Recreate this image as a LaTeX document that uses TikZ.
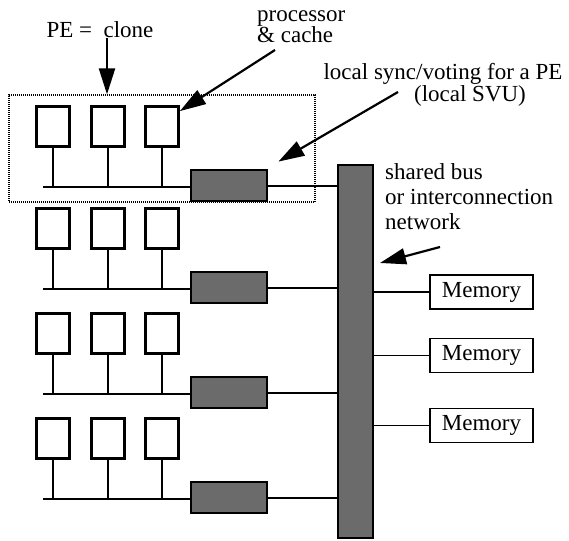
\documentclass[tikz,border=0pt]{standalone}
\usepackage{fontspec}
\setmainfont{Liberation Serif}
\usetikzlibrary{arrows.meta}

\tikzset{
  proc/.style={draw, line width=2.8pt, minimum width=33pt, minimum height=40pt, inner sep=0pt},
  svu/.style={draw, line width=2.8pt, fill=black!58, minimum width=76pt, minimum height=31pt, inner sep=0pt},
  mem/.style={draw, line width=1.8pt, minimum width=103pt, minimum height=34pt, inner sep=0pt},
  lbl/.style={font=\fontsize{23}{23}\selectfont, inner sep=0pt},
  pointer/.style={line width=2.2pt, -{Triangle[length=26pt,width=16pt]}},
}

\begin{document}
\begin{tikzpicture}[x=1pt,y=-1pt]
\useasboundingbox (0,0) rectangle (569,540);
% shared bus and the memories
\node[svu, minimum width=35pt, minimum height=373pt] (bus) at (355.5,351.5) {};
\node[mem, lbl] (m1) at (481.5,292) {Memory};
\node[mem, lbl] (m2) at (481.5,355.5) {Memory};
\node[mem, lbl] (m3) at (481.5,425.5) {Memory};
\foreach \m in {1,2,3}
  \draw[line width=1.5pt] (m\m.west) -- (m\m.west -| bus.east);

% the four PEs
\foreach \r/\y in {1/187,2/289,3/394,4/499}{
  \node[proc] (p\r-1) at (53,\y-60.5) {};
  \node[proc] (p\r-2) at (108,\y-60.5) {};
  \node[proc] (p\r-3) at (162,\y-60.5) {};
  \node[svu] (s\r) at (229,\y-1.5) {};
  \coordinate (b\r) at (43,\y);
  \draw[line width=2pt] (b\r) -- (b\r -| s\r.west);
  \foreach \k in {1,2,3}
    \draw[line width=2pt] (p\r-\k.south) -- (p\r-\k.south |- b\r);
  \draw[line width=2pt] (s\r.east) -- (s\r.east -| bus.west);
}

% one PE = clone
\node[draw, line width=1.2pt, dash pattern=on 1pt off 1pt, minimum width=306pt, minimum height=107pt] (grp) at (162,148.5) {};

% labels
\node[lbl] (pe) at (100,30) {PE = \ clone};
\node[lbl, font=\fontsize{23}{20}\selectfont, align=left, anchor=base west] (pc) at (257,43) {processor\\\& cache};
\node[lbl] (sync) at (443,74) {local sync/voting for a PE};
\node[lbl] (svulbl) at (470,96) {(local SVU)};
\node[lbl, font=\fontsize{23}{25}\selectfont, align=left, anchor=base west] (net) at (385,229) {shared bus\\or interconnection\\network};
\coordinate (pcTail) at (275,50);
\coordinate (syncTail) at (398,92);
\coordinate (netTail) at (440,247);
\coordinate (netTip) at (380,263);

\draw[pointer] ([xshift=7pt]pe.south) -- ([xshift=7pt]pe.south |- grp.north);
\draw[pointer] (pcTail) -- ([yshift=-6pt]p1-3.north east);
\draw[pointer] (syncTail) -- ([shift={(10pt,7pt)}]s1.north east);
\draw[pointer] (netTail) -- (netTip);
\end{tikzpicture}
\end{document}
